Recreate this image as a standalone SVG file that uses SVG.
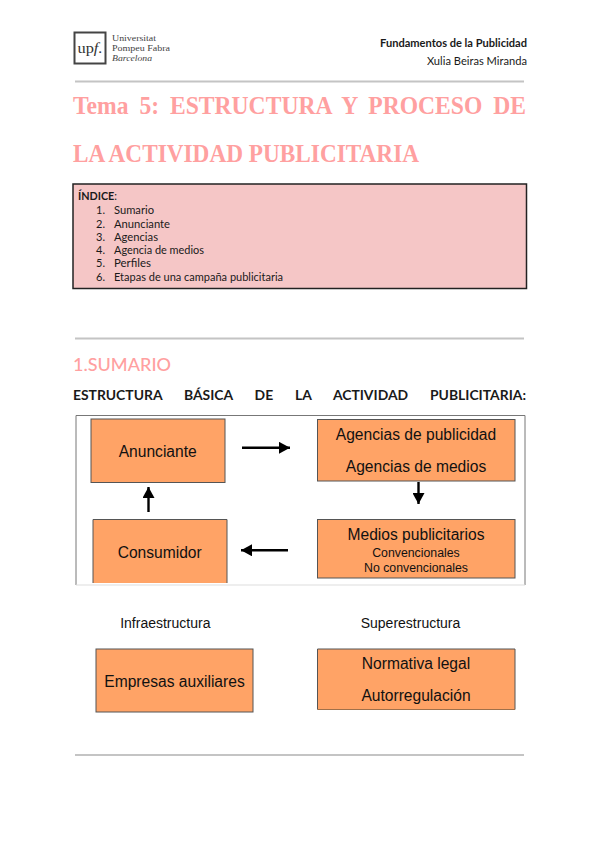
<svg xmlns="http://www.w3.org/2000/svg" width="600" height="848" viewBox="0 0 600 848">
<defs>
<marker id="ah" markerUnits="userSpaceOnUse" markerWidth="12" markerHeight="12" refX="11" refY="6" orient="auto"><path d="M0 0L11 6L0 12Z" fill="#000"/></marker>
</defs>
<style>
.rule{stroke:#c4c4c4;stroke-width:2}
.l{font-family:Lato,"Liberation Sans",sans-serif;fill:#1a1a1a}
.h{font-family:"Liberation Serif",serif;font-weight:700;font-size:26px;fill:#ffa0a0}
.a{font-family:"Liberation Sans",Arial,sans-serif;fill:#111;text-anchor:middle}
.f1{font-size:15.600px}
.f2{font-size:12.300px}
.f3{font-size:14px}
.box{fill:#ffa366;stroke:#555;stroke-width:1}
.idx{font-size:11px}
.arr{stroke:#000;stroke-width:2.400;fill:none;marker-end:url(#ah)}
.u{font-family:"Liberation Serif",serif;font-size:8.500px;fill:#444}
</style>
<rect width="600" height="848" fill="#fff"/>
<g id="logo">
<rect x="74.500" y="32.500" width="31" height="31" fill="#fff" stroke="#444" stroke-width="2"/>
<text x="90" y="53" font-family="Liberation Serif,serif" font-size="15" fill="#333" text-anchor="middle" textLength="25" lengthAdjust="spacingAndGlyphs">up<tspan font-style="italic">f.</tspan></text>
<text class="u" x="112" y="41" textLength="44" lengthAdjust="spacingAndGlyphs">Universitat</text>
<text class="u" x="112" y="51" textLength="58" lengthAdjust="spacingAndGlyphs">Pompeu Fabra</text>
<text class="u" x="112" y="61" font-style="italic" textLength="40" lengthAdjust="spacingAndGlyphs">Barcelona</text>
</g>
<g id="header">
<text class="l" x="380" y="47" font-size="11" font-weight="700" textLength="147" lengthAdjust="spacingAndGlyphs">Fundamentos de la Publicidad</text>
<text class="l" x="427" y="65" font-size="11" textLength="100" lengthAdjust="spacingAndGlyphs">Xulia Beiras Miranda</text>
</g>
<line class="rule" x1="75" y1="81.500" x2="524" y2="81.500"/>
<g id="title">
<text class="h" x="73" y="114" word-spacing="5.500" textLength="453" lengthAdjust="spacingAndGlyphs">Tema 5: ESTRUCTURA Y PROCESO DE</text>
<text class="h" x="73" y="162" textLength="346" lengthAdjust="spacingAndGlyphs">LA ACTIVIDAD PUBLICITARIA</text>
</g>
<g id="indice">
<rect x="73" y="184" width="453.500" height="104.500" fill="#f5c6c6" stroke="#222" stroke-width="1.500"/>
<text class="l idx" x="78" y="200" textLength="39" lengthAdjust="spacingAndGlyphs"><tspan font-weight="700">ÍNDICE</tspan>:</text>
<text class="l idx" x="96" y="214">1.</text><text class="l idx" x="114" y="214" textLength="40" lengthAdjust="spacingAndGlyphs">Sumario</text>
<text class="l idx" x="96" y="228">2.</text><text class="l idx" x="114" y="228" textLength="56" lengthAdjust="spacingAndGlyphs">Anunciante</text>
<text class="l idx" x="96" y="241">3.</text><text class="l idx" x="114" y="241" textLength="44" lengthAdjust="spacingAndGlyphs">Agencias</text>
<text class="l idx" x="96" y="254">4.</text><text class="l idx" x="114" y="254" textLength="90" lengthAdjust="spacingAndGlyphs">Agencia de medios</text>
<text class="l idx" x="96" y="267">5.</text><text class="l idx" x="114" y="267" textLength="37" lengthAdjust="spacingAndGlyphs">Perfiles</text>
<text class="l idx" x="96" y="281">6.</text><text class="l idx" x="114" y="281" textLength="169" lengthAdjust="spacingAndGlyphs">Etapas de una campaña publicitaria</text>
</g>
<line class="rule" x1="75" y1="338.500" x2="524" y2="338.500"/>
<text id="sumario" x="73" y="371" font-family="Lato,sans-serif" font-size="17.500" font-weight="500" fill="#ffa0a0" textLength="98" lengthAdjust="spacingAndGlyphs">1.SUMARIO</text>
<text id="estructura" class="l" x="73" y="400" font-size="13.500" font-weight="700" word-spacing="18" textLength="453" lengthAdjust="spacingAndGlyphs">ESTRUCTURA BÁSICA DE LA ACTIVIDAD PUBLICITARIA:</text>
<g id="frame">
<path d="M76 585V415.500H525V585" fill="none" stroke="#777" stroke-width="1"/>
<line x1="76" y1="585" x2="525" y2="585" stroke="#ddd" stroke-width="1"/>
</g>
<g id="anunciante">
<rect class="box" x="91" y="419" width="134" height="63.500"/>
<text class="a f1" x="157.700" y="457">Anunciante</text>
</g>
<g id="agencias">
<rect class="box" x="317.500" y="419.500" width="197.500" height="61.500"/>
<text class="a f1" x="416" y="440">Agencias de publicidad</text>
<text class="a f1" x="416" y="472">Agencias de medios</text>
</g>
<g id="consumidor">
<path class="box" d="M93 583V519.500H227V583"/>
<text class="a f1" x="159.700" y="558">Consumidor</text>
</g>
<g id="medios">
<rect class="box" x="317.500" y="519.500" width="197.500" height="58.500"/>
<text class="a f1" x="416" y="540">Medios publicitarios</text>
<text class="a f2" x="416" y="557">Convencionales</text>
<text class="a f2" x="416" y="572">No convencionales</text>
</g>
<g id="connectors">
<line class="arr" x1="242" y1="447.800" x2="290" y2="447.800"/>
<line class="arr" x1="418.500" y1="482" x2="418.500" y2="504"/>
<line class="arr" x1="288" y1="550.300" x2="241" y2="550.300"/>
<line class="arr" x1="148.500" y1="512" x2="148.500" y2="487"/>
</g>
<text id="infra" class="a f3" x="165.300" y="628">Infraestructura</text>
<text id="super" class="a f3" x="410.500" y="628">Superestructura</text>
<g id="empresas">
<rect class="box" x="96" y="649" width="157" height="63"/>
<text class="a f1" x="174.500" y="687">Empresas auxiliares</text>
</g>
<g id="normativa">
<path class="box" d="M317.500 709.500V649H515V709.500"/>
<path d="M317.500 709.500H515" fill="none" stroke="#a0704a" stroke-width="1"/>
<text class="a f1" x="416" y="669">Normativa legal</text>
<text class="a f1" x="416" y="701">Autorregulación</text>
</g>
<line class="rule" x1="75" y1="755" x2="524" y2="755"/>
</svg>
